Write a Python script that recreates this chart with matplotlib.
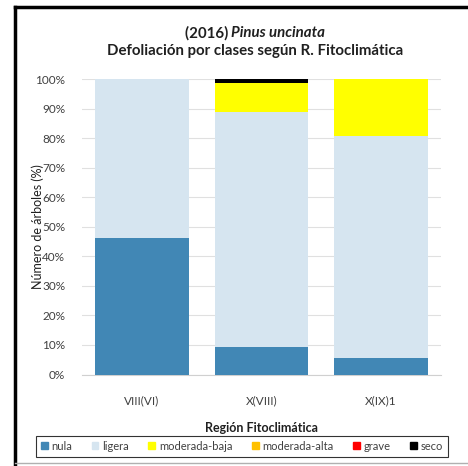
import matplotlib
matplotlib.use("Agg")
import matplotlib.pyplot as plt
from matplotlib.patches import Rectangle
from matplotlib.lines import Line2D
import numpy as np

regions = ["VIII(VI)", "X(VIII)", "X(IX)1"]
classes = ["nula", "ligera", "moderada-baja", "moderada-alta", "grave", "seco"]
nula = [46.1, 9.4, 5.7]
ligera = [53.9, 79.3, 75.0]
moderada_baja = [0.0, 9.8, 19.3]
moderada_alta = [0.0, 0.0, 0.0]
grave = [0.0, 0.0, 0.0]
seco = [0.0, 1.5, 0.0]
yticks = [0, 10, 20, 30, 40, 50, 60, 70, 80, 90, 100]

colors = ["#4187B5", "#D6E5F0", "#FFFF00", "#FFC000", "#FF0000", "#000000"]
series = [nula, ligera, moderada_baja, moderada_alta, grave, seco]

plt.rcParams['font.family'] = ['Lato', 'DejaVu Sans']

fig = plt.figure(figsize=(4.68, 4.66), dpi=100)
ax = fig.add_axes([82/468, (466-374.5)/466, 359/468, (374.5-79)/466])

x = np.arange(len(regions))
bottom = np.zeros(len(regions))
for vals, c, name in zip(series, colors, classes):
    v = np.array(vals)
    ax.bar(x, v, width=0.785, bottom=bottom, color=c, label=name, zorder=3)
    bottom += v

ax.set_xlim(-0.5, 2.5)
ax.set_ylim(0, 100)
ax.set_yticks(yticks)
ax.set_yticklabels([f"{t}%" for t in yticks], color="#404040", fontsize=8.5)
ax.set_xticks(x)
ax.set_xticklabels(regions, color="#404040", fontsize=8.5)
ax.tick_params(axis='y', length=0, pad=12)
ax.tick_params(axis='x', length=0, pad=15)
ax.grid(axis='y', color="#E0E0E0", linewidth=0.8, zorder=0)
for s in ["top", "right", "left"]:
    ax.spines[s].set_visible(False)
ax.spines["bottom"].set_color("#D0D0D0")
ax.set_ylabel("Número de árboles (%)", fontsize=9, color="#202020", va='center')
ax.yaxis.set_label_coords((38-82)/359, 0.5)
ax.set_xlabel("Región Fitoclimática", fontsize=9, fontweight='bold', color="#202020", labelpad=11)

# Title
tsize = 10.8
fig.canvas.draw()
renderer = fig.canvas.get_renderer()
t1 = fig.text(0, (466-33)/466, "(2016) ", ha='left', va='center',
              fontsize=tsize, fontweight='bold', color="#202020")
t2 = fig.text(0, (466-33)/466, "Pinus uncinata", ha='left', va='center',
              fontsize=tsize, fontweight='bold', fontstyle='italic', color="#202020")
w1 = t1.get_window_extent(renderer).width
w2 = t2.get_window_extent(renderer).width
cx = 255
start = cx - (w1 + w2) / 2
t1.set_x(start / 468)
t2.set_x((start + w1) / 468)
fig.text(cx/468, (466-51)/466, "Defoliación por clases según R. Fitoclimática", ha='center', va='center',
         fontsize=tsize, fontweight='bold', color="#202020")

# Legend
handles = [Rectangle((0, 0), 1, 1, color=c) for c in colors]
leg = fig.legend(handles, classes, loc='center', bbox_to_anchor=(242/468, (466-446)/466),
                 ncol=6, fontsize=8, frameon=True, fancybox=False, edgecolor='black',
                 handlelength=0.6, handleheight=0.6, handletextpad=0.35, columnspacing=1.75,
                 borderpad=0.45)
leg.get_frame().set_linewidth(0.8)
for t in leg.get_texts():
    t.set_color("#404040")

# Outer frame
fig.add_artist(Line2D([15/468, 15/468], [0, (466-7)/466], color='black', lw=2.5, transform=fig.transFigure))
fig.add_artist(Line2D([15/468, 1], [(466-7)/466, (466-7)/466], color='black', lw=2.5, transform=fig.transFigure))
fig.add_artist(Line2D([15/468, 1], [(466-463)/466, (466-463)/466], color='#B0B0B0', lw=1, transform=fig.transFigure))

fig.savefig("out.png", dpi=100)
